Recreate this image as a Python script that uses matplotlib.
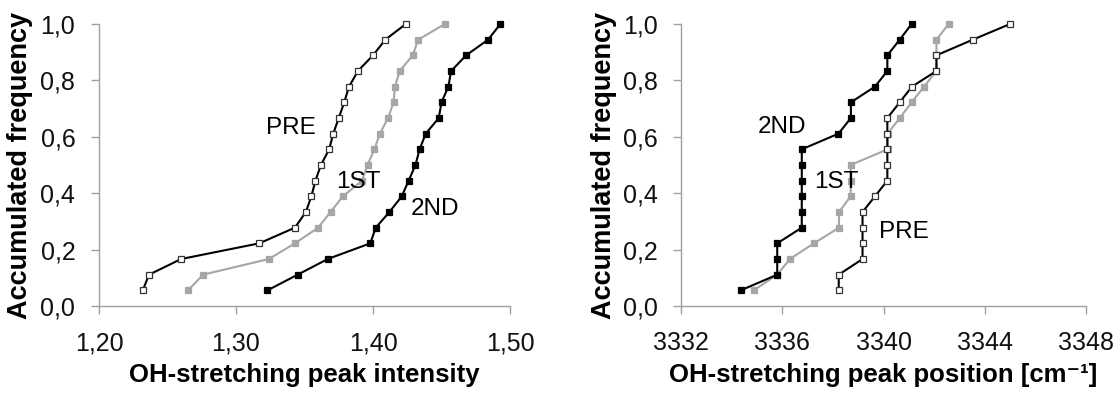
import numpy as np
import matplotlib
matplotlib.use("Agg")
import matplotlib.pyplot as plt
from matplotlib.ticker import FuncFormatter, MultipleLocator

plt.rcParams['font.family'] = ['Liberation Sans', 'DejaVu Sans']

# cumulative frequency levels, 18 samples per group
freq = np.arange(1, 19) / 18.0

# OH-stretching peak intensity
int_pre = [1.232, 1.2365, 1.260, 1.317, 1.343, 1.351, 1.355, 1.358, 1.362,
           1.368, 1.371, 1.375, 1.379, 1.3825, 1.389, 1.400, 1.409, 1.424]
int_1st = [1.265, 1.276, 1.324, 1.343, 1.360, 1.369, 1.378, 1.392, 1.396,
           1.401, 1.405, 1.411, 1.415, 1.416, 1.4195, 1.429, 1.433, 1.4525]
int_2nd = [1.323, 1.345, 1.367, 1.398, 1.402, 1.412, 1.421, 1.426, 1.431,
           1.434, 1.4385, 1.448, 1.450, 1.455, 1.457, 1.468, 1.484, 1.493]

# OH-stretching peak position [cm-1]
pos_pre = [3338.23, 3338.23, 3339.17, 3339.17, 3339.17, 3339.17, 3339.66, 3340.15, 3340.15,
           3340.15, 3340.15, 3340.15, 3340.64, 3341.12, 3342.09, 3342.09, 3343.53, 3345.00]
pos_1st = [3334.87, 3335.80, 3336.30, 3337.25, 3338.24, 3338.24, 3338.70, 3338.70, 3338.70,
           3340.16, 3340.16, 3340.64, 3341.11, 3341.60, 3342.09, 3342.09, 3342.09, 3342.57]
pos_2nd = [3334.36, 3335.80, 3335.80, 3335.80, 3336.77, 3336.77, 3336.77, 3336.77, 3336.77,
           3336.77, 3338.22, 3338.71, 3338.71, 3339.66, 3340.15, 3340.15, 3340.64, 3341.11]

GRAY = '#a6a6a6'
AXC = '#a0a0a0'

styles = {
    'PRE': dict(color='black', mfc='white', mec='#333333'),
    '1ST': dict(color=GRAY, mfc=GRAY, mec=GRAY),
    '2ND': dict(color='black', mfc='black', mec='black'),
}


def comma(fmt):
    return FuncFormatter(lambda v, p: (fmt % v).replace('.', ','))


def setup(ax, xlim, xstep, xfmt, xlabel, ylab_x):
    ax.set_xlim(*xlim)
    ax.set_ylim(0, 1)
    ax.xaxis.set_major_locator(MultipleLocator(xstep))
    ax.yaxis.set_major_locator(MultipleLocator(0.2))
    ax.xaxis.set_major_formatter(comma(xfmt))
    ax.yaxis.set_major_formatter(comma('%.1f'))
    for s in ('top', 'right'):
        ax.spines[s].set_visible(False)
    for s in ('left', 'bottom'):
        ax.spines[s].set_color(AXC)
        ax.spines[s].set_linewidth(1.0)
    ax.tick_params(axis='both', direction='out', length=6, width=1.0,
                   color=AXC, labelsize=18, labelcolor='#111111')
    ax.tick_params(axis='x', pad=12)
    ax.tick_params(axis='y', pad=11)
    ax.set_xlabel(xlabel, fontsize=18.5, fontweight='bold', labelpad=6)
    ax.set_ylabel('Accumulated frequency', fontsize=19.5, fontweight='bold')
    ax.yaxis.set_label_coords(ylab_x, 0.5)


def draw(ax, series):
    for name, xs in series:
        ax.plot(xs, freq, marker='s', markersize=5, lw=1.5, clip_on=False,
                markeredgewidth=0.9, **styles[name])


fig = plt.figure(figsize=(11.17, 3.95), dpi=100)
ax1 = fig.add_axes([0.0886, 0.2253, 0.368, 0.714])
ax2 = fig.add_axes([0.6097, 0.2253, 0.3626, 0.714])

draw(ax1, [('1ST', int_1st), ('2ND', int_2nd), ('PRE', int_pre)])
setup(ax1, (1.20, 1.50), 0.10, '%.2f', 'OH-stretching peak intensity', -0.161)
ax1.text(1.3402, 0.63, 'PRE', fontsize=17.5, ha='center', va='center')
ax1.text(1.3893, 0.441, '1ST', fontsize=17.5, ha='center', va='center')
ax1.text(1.4455, 0.345, '2ND', fontsize=17.5, ha='center', va='center')

draw(ax2, [('1ST', pos_1st), ('PRE', pos_pre), ('2ND', pos_2nd)])
setup(ax2, (3332, 3348), 4, '%.0f', 'OH-stretching peak position [cm\u207b\u00b9]', -0.158)
ax2.text(3335.99, 0.634, '2ND', fontsize=17.5, ha='center', va='center')
ax2.text(3338.15, 0.44, '1ST', fontsize=17.5, ha='center', va='center')
ax2.text(3340.8, 0.262, 'PRE', fontsize=17.5, ha='center', va='center')

fig.savefig('out.png', dpi=100)
